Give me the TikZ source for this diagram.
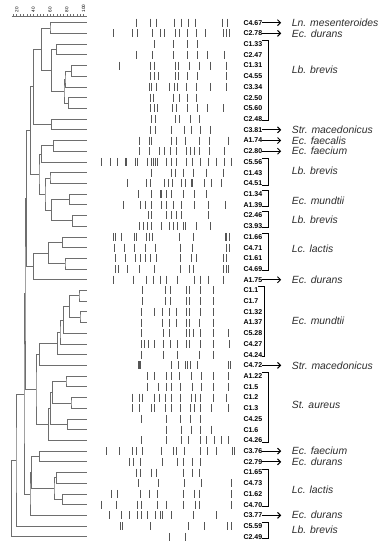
\documentclass[tikz,border=0pt]{standalone}
\usepackage{fontspec}
\setmainfont{Liberation Sans}
\definecolor{bandgray}{RGB}{85, 85, 85}
\definecolor{treegray}{RGB}{110, 110, 110}
\definecolor{namegray}{RGB}{45, 45, 45}
\usetikzlibrary{positioning, calc, arrows.meta}

% join two branches (#3, #4) at height #2 into node #1
\newcommand{\joinat}[4]{%
  \coordinate (h#1) at (#2,0);
  \coordinate (m#1) at ($(#3)!0.5!(#4)$);
  \coordinate (#1) at (m#1 -| h#1);
  \draw [treeline] (#3) -| (#1) |- (#4);
}

\begin{document}
\begin{tikzpicture}[x=1pt, y=-1pt, >=stealth,
    treeline/.style={treegray, line width=0.8pt},
    band/.style={bandgray, line width=0.9pt},
    lab/.style={anchor=west, inner sep=0pt, font=\bfseries\fontsize{7}{8}\selectfont},
    species/.style={anchor=west, inner sep=0pt, text depth=0pt, text=namegray, font=\itshape\fontsize{10.4}{12}\selectfont},
    arr/.style={-{Straight Barb[length=3pt, width=6pt]}, line width=1pt, shorten >=10.5pt},
    brk/.style={line width=1pt}]
    \useasboundingbox (0,0) rectangle (386,550);

    % similarity scale
    \draw [treeline] (11.7,16) -- (86.7,16);
    \foreach \t in {0,...,21}
        \draw [treeline, line width=0.5pt] ({13.4+\t*3.34},16) -- ++(0,-1.8);
    \foreach \v/\p in {20/16.7, 40/33.4, 60/50.1, 80/66.8, 100/83.5}
        \node [rotate=90, anchor=west, inner sep=0pt, font=\fontsize{4.6}{5}\selectfont] (sc\v) at (\p,12.5) {\v};

    % leaves
    \foreach \i in {1,...,49}
        \coordinate (l\i) at (86.7, {22.7+(\i-1)*10.71});

    % dendrogram
    \joinat{nA}{50}{l1}{l2}
    \joinat{nB}{56.7}{l3}{l4}
    \joinat{nC}{71.7}{l5}{l6}
    \joinat{nF}{65}{nC}{l7}
    \joinat{nE}{68.3}{l8}{l9}
    \joinat{nG}{64}{nF}{nE}
    \joinat{nH}{51.7}{nB}{nG}
    \joinat{nI}{41.7}{nA}{nH}
    \joinat{nJ}{51.7}{l10}{l11}
    \joinat{nK}{33.3}{nI}{nJ}
    \joinat{nN}{53.3}{l12}{l13}
    \joinat{nO}{41.7}{nN}{l14}
    \joinat{nP}{50}{l15}{l16}
    \joinat{nQ}{69.3}{l17}{l18}
    \joinat{nR}{72.7}{l19}{l20}
    \joinat{nS}{51.7}{nQ}{nR}
    \joinat{nT}{45}{nP}{nS}
    \joinat{nM}{39}{nO}{nT}
    \joinat{nL}{30.7}{nK}{nM}
    \joinat{nV}{62.7}{l21}{l22}
    \joinat{nW}{65}{l23}{l24}
    \joinat{nX}{48.3}{nV}{nW}
    \joinat{nY}{33.3}{nX}{l25}
    \joinat{nU}{26.7}{nL}{nY}
    \joinat{mu1}{79}{l26}{l27}
    \joinat{mu2}{80}{l28}{l29}
    \joinat{mu3}{69.3}{mu1}{mu2}
    \joinat{mu4}{63.3}{mu3}{l30}
    \joinat{mu5}{60}{mu4}{l31}
    \joinat{mu6}{57.3}{mu5}{l32}
    \joinat{mu7}{39.3}{mu6}{l33}
    \joinat{au1}{66}{l34}{l35}
    \joinat{au2}{71}{l36}{l37}
    \joinat{au3}{52.7}{au1}{au2}
    \joinat{au4}{67.7}{l38}{l39}
    \joinat{au5}{50.7}{au3}{au4}
    \joinat{au6}{48.3}{au5}{l40}
    \joinat{mid}{36}{mu7}{au6}
    \joinat{nZ}{25}{nU}{mid}
    \joinat{la1}{39.3}{l41}{l42}
    \joinat{la2}{56.7}{l43}{l44}
    \joinat{la3}{62.7}{l45}{l46}
    \joinat{la4}{54}{la2}{la3}
    \joinat{la5}{31.7}{la1}{la4}
    \joinat{la6}{30}{la5}{l47}
    \joinat{nZZ}{24}{nZ}{la6}
    \joinat{top}{16}{nZZ}{l48}
    \joinat{root}{11.7}{top}{l49}

    % band patterns
    \foreach \r/\xs in {
        1/{136.7,150.7,156,174,181,188,195,222.7,227},
        2/{113,132.7,137,152.7,160,164,175.7,179,187.7,196.7,205.7,223,226.7,229.3},
        3/{154,173,187,197},
        4/{136,152.7,173,187,197,207.7,224},
        5/{119,150.7,154,175.7,178,189,199,210,226.7},
        6/{150.7,154,158,175.7,178,187.7,197,226.7},
        7/{149,151.7,156.7,169,174,177.7,186.7,196.7,210,226.7},
        8/{150.7,153,173,179,187.7,196.7},
        9/{150,154,157.7,172.7,176.7,187.3,197.3,207.7,223.3},
        10/{151.7,155.7,175.7,179,190,199.3},
        11/{150.7,155,171.7,184,191,200,210},
        12/{139.3,149.3,151,171,176,185,199.3,209.3,228.3},
        13/{139.3,149.3,159.3,164.3,170,176,186,190,194.3,199.3,209.3,224},
        14/{101.7,110,117.7,125,126,135,137.3,147.7,151.7,153.3,155,157.7,166.7,171,176.7,186.7,192.7,200,208.3,216.7,224,231.7},
        15/{151.7,171,175,183.3,193.3,206,223.3},
        16/{127.7,146,150,164.3,168.3,172.7,181.7,185,191,192.7,204.3,211.7,221.7},
        17/{138.3,151.7,160,161,166,171.7,183.3,194.3,206.7},
        18/{123.3,140,145,151.7,161,166,173.3,181.7,194.3,208.3,225},
        19/{148.3,151.7,166.7,171.7,176.7,181.7,208.3},
        20/{139.3,143.3,147.7,151.7,161.7,169.3,173.3,177.3,183.3,185,196.7,210},
        21/{113.3,115,121.7,134.3,136.7,146.7,149.3,152.7,179.3,193.3,225,226.7,229.3},
        22/{114,124,134,145,155,180,192.7,226.7,229.3},
        23/{115,125,135,140,145,150,156,180,191.7,196.7,223.3,226.7},
        24/{115,118.3,127.3,139.3,154.3,180,189.3,193.3,223.3,226,228.3},
        25/{113.3,133.3,146,153.3,160,166.7,177.3,194.3,200.7,208.3,223.3},
        26/{142.7,165,170,186,189.3,200,213.3},
        27/{142.7,165,170,186.7,189.3,200,213.3},
        28/{141.7,154.3,162.7,169.3,176,186,189.3,200,213.3},
        29/{141.7,162.7,169.3,176,186,189.3,199.3,213.3},
        30/{141.7,163.3,169.3,186,189.3,193.3,200,213.3,228.3},
        31/{141.7,144.3,148.3,154.3,163.3,170,177.7,186,189.3,200,213.3,229.3},
        32/{141.7,163.3,177.7,199.3,213.3},
        33/{138.3,139.3,140.7,171.7,178.3,185,187.3,190,197.3,228.3,230.7},
        34/{147.3,154,166,171,179.3,191,201,213.3,228.3},
        35/{147.7,158.3,166,171.7,180,192.7,201.7,213.3,228.3},
        36/{132.7,139.3,142.7,154.3,159.3,165,171,180,191.7,195,200,213.3,226.7},
        37/{132.7,139.3,151,154.3,165,171,180,190,194.3,200,211.7,228.3},
        38/{141.7,166,180,190,200},
        39/{166,181.7,191,200,211.7},
        40/{141.7,166,181,188.3,200,206.7,214.3,221,228.3},
        41/{106.7,119,132.7,136,142.7,161.7,173.3,176,184,200,207.3,216.7,232.3,234.3},
        42/{129.3,133.3,140.7,162.7,177.7,183.3,192.7,200},
        43/{136,140.7,151,156,183.3,192.7,199.3},
        44/{138.3,158.3,184.3,201.7,231.7},
        45/{111,117.3,140.7,149,157.3,183.3,194,199,231.7},
        46/{101,116.7,137.3,141.7,157.3,166.7,183.3,195,199,231.7},
        47/{109.3,121.7,129.3,137.3,141.7,147.3,155,160,162,171.7,193.3,216},
        48/{120,122,150.7,188.3,204,227.3,231.7},
        49/{169.3,185}}
        \foreach \x in \xs
            \draw [band] (\x, {22.7+(\r-1)*10.71-4}) -- (\x, {22.7+(\r-1)*10.71+4});

    % isolate labels
    \foreach \i/\t in {1/C4.67, 2/C2.78, 3/C1.33, 4/C2.47, 5/C1.31, 6/C4.55, 7/C3.34,
        8/C2.50, 9/C5.60, 10/C2.48, 11/C3.81, 12/A1.74, 13/C2.80, 14/C5.56, 15/C1.43,
        16/C4.51, 17/C1.34, 18/A1.39, 19/C2.46, 20/C3.93, 21/C1.66, 22/C4.71, 23/C1.61,
        24/C4.69, 25/A1.75, 26/C1.1, 27/C1.7, 28/C1.32, 29/A1.37, 30/C5.28, 31/C4.27,
        32/C4.24, 33/C4.72, 34/A1.22, 35/C1.5, 36/C1.2, 37/C1.3, 38/C4.25, 39/C1.6,
        40/C4.26, 41/C3.76, 42/C2.79, 43/C1.65, 44/C4.73, 45/C1.62, 46/C4.70, 47/C3.77,
        48/C5.59, 49/C2.49}
        \node [lab] (lab\i) at (243.3, {22.7+(\i-1)*10.71}) {\t};

    % species names
    \node [species] (sp1) at (291.7, 22.7) {Ln. mesenteroides};
    \node [species] (sp2) at (291.7, 33.4) {Ec. durans};
    \node [species] (sp3) at (291.7, 70) {Lb. brevis};
    \node [species] (sp11) at (291.7, 129.8) {Str. macedonicus};
    \node [species] (sp12) at (291.7, 140.5) {Ec. faecalis};
    \node [species] (sp13) at (291.7, 151.2) {Ec. faecium};
    \node [species] (sp14) at (291.7, 170.7) {Lb. brevis};
    \node [species] (sp17) at (291.7, 200.7) {Ec. mundtii};
    \node [species] (sp19) at (291.7, 220) {Lb. brevis};
    \node [species] (sp21) at (291.7, 248.3) {Lc. lactis};
    \node [species] (sp25) at (291.7, 279.7) {Ec. durans};
    \node [species] (sp26) at (291.7, 320.7) {Ec. mundtii};
    \node [species] (sp33) at (291.7, 365.5) {Str. macedonicus};
    \node [species] (sp34) at (291.7, 405) {St. aureus};
    \node [species] (sp41) at (291.7, 451.1) {Ec. faecium};
    \node [species] (sp42) at (291.7, 461.8) {Ec. durans};
    \node [species] (sp43) at (291.7, 490) {Lc. lactis};
    \node [species] (sp47) at (291.7, 515.2) {Ec. durans};
    \node [species] (sp48) at (291.7, 530) {Lb. brevis};

    % single isolates and groups
    \foreach \i in {1,2,11,12,13,25,33,41,42,47}
        \draw [arr] (lab\i.east) -- (lab\i.east -| sp\i.west);
    \foreach \a/\b in {3/10, 14/16, 17/18, 19/20, 21/24, 26/32, 34/40, 43/46, 48/49}
        \draw [brk] ([yshift=3.5pt]lab\a.east) -- ++(6,0) |- ([yshift=-1.8pt]lab\b.east);
\end{tikzpicture}
\end{document}
